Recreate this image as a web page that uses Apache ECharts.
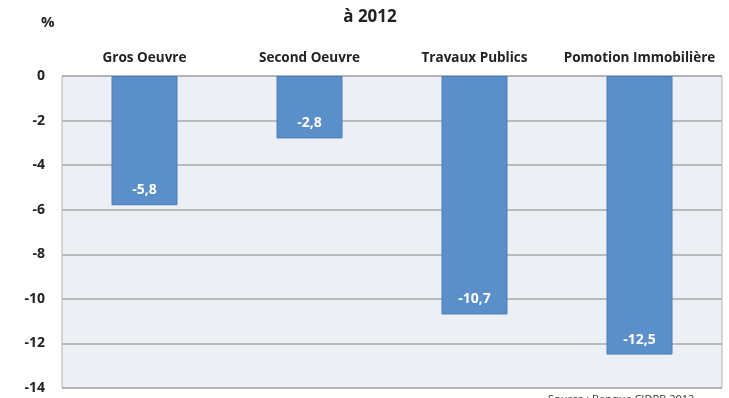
<!DOCTYPE html>
<html><head><meta charset="utf-8">
<script src="https://cdn.jsdelivr.net/npm/echarts@6/dist/echarts.min.js"></script>
<style>html,body{margin:0;padding:0;background:#fff;}#c{width:729px;height:398px;}</style>
</head><body><div id="c"></div>
<script>
const categories = ['Gros Oeuvre', 'Second Oeuvre', 'Travaux Publics', 'Pomotion Immobilière'];
const values = [-5.8, -2.8, -10.7, -12.5];
const yMin = -14, yMax = 0, yStep = 2;
const FONT = 'Open Sans';
const chart = echarts.init(document.getElementById('c'));
chart.setOption({
  backgroundColor: '#ffffff',
  animation: false,
  title: [
    {text: 'à 2012', left: 365, top: 4, textAlign: 'center',
     textStyle: {fontFamily: FONT, fontSize: 17, fontWeight: 'bold', color: '#222'}},
    {text: '%', left: 36, top: 10,
     textStyle: {fontFamily: FONT, fontSize: 15, fontWeight: 'bold', color: '#222'}},
    {text: 'Source : Banque CIDRB 2012', left: 543, top: 389,
     textStyle: {fontFamily: FONT, fontSize: 11, fontWeight: 'normal', color: '#333'}}
  ],
  grid: {left: 62, right: 7, top: 76, bottom: 10, show: true, backgroundColor: '#eceff4', borderColor: '#b4b4b4', borderWidth: 1},
  xAxis: {
    type: 'category', data: categories, position: 'top',
    axisLine: {show: false}, axisTick: {show: false},
    axisLabel: {fontFamily: FONT, fontSize: 13.5, fontWeight: 'bold', color: '#222', margin: 11, interval: 0}
  },
  yAxis: {
    type: 'value', min: yMin, max: yMax, interval: yStep,
    axisLine: {show: false}, axisTick: {show: false},
    axisLabel: {fontFamily: FONT, fontSize: 14, fontWeight: 'bold', color: '#222', margin: 17},
    splitLine: {lineStyle: {color: '#a8a8a8', width: 1.5}}
  },
  series: [{
    type: 'bar', data: values, barWidth: '40%',
    itemStyle: {color: '#5b8fca', borderColor: '#4a7db8', borderWidth: 1},
    label: {show: true, position: 'insideBottom', distance: 8,
      formatter: p => String(p.value).replace('.', ','),
      fontFamily: FONT, fontSize: 14, fontWeight: 'bold', color: '#fff'}
  }]
});
</script></body></html>
